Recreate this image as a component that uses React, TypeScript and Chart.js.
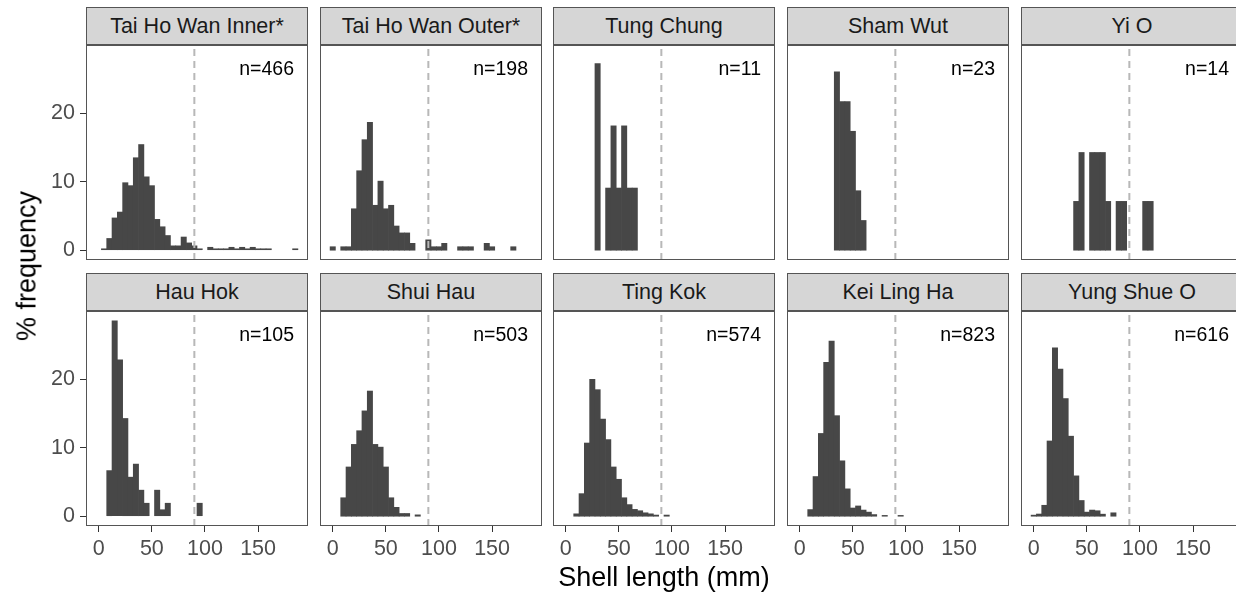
import React, { useEffect, useRef } from "react";
import { Chart, registerables } from "chart.js";

Chart.register(...registerables);

// ---------------- data ----------------
// histogram bin centres (mm), bin width 5 mm
const binCenters = [0, 5, 10, 15, 20, 25, 30, 35, 40, 45, 50, 55, 60, 65, 70, 75, 80, 85, 90, 95, 100, 105, 110, 115, 120, 125, 130, 135, 140, 145, 150, 155, 160, 165, 170, 175, 180, 185];

const siteNames = ["Tai Ho Wan Inner*", "Tai Ho Wan Outer*", "Tung Chung", "Sham Wut", "Yi O", "Hau Hok", "Shui Hau", "Ting Kok", "Kei Ling Ha", "Yung Shue O"];
const sampleSizes = [466, 198, 11, 23, 14, 105, 503, 574, 823, 616];

// % frequency per bin
const taiHoWanInner = [0, 0.21, 1.72, 4.72, 5.58, 9.87, 9.44, 13.52, 15.45, 10.73, 9.44, 4.51, 3.43, 2.15, 0.64, 0.64, 1.93, 1.07, 0.64, 0.21, 0, 0.43, 0.21, 0.21, 0.21, 0.43, 0.21, 0.43, 0.21, 0.43, 0.21, 0.21, 0.21, 0, 0, 0, 0, 0.21];
const taiHoWanOuter = [0.51, 0, 0.51, 0.51, 6.06, 11.62, 16.16, 18.69, 6.57, 10.1, 6.06, 6.57, 3.54, 2.53, 2.53, 1.01, 0, 0, 1.52, 0.51, 0.51, 1.01, 0, 0, 0.51, 0.51, 0.51, 0, 0, 1.01, 0.51, 0, 0, 0, 0.51, 0, 0, 0];
const tungChung = [0, 0, 0, 0, 0, 0, 27.27, 0, 9.09, 18.18, 9.09, 18.18, 9.09, 9.09, 0, 0, 0, 0, 0, 0, 0, 0, 0, 0, 0, 0, 0, 0, 0, 0, 0, 0, 0, 0, 0, 0, 0, 0];
const shamWut = [0, 0, 0, 0, 0, 0, 0, 26.09, 21.74, 21.74, 17.39, 8.7, 4.35, 0, 0, 0, 0, 0, 0, 0, 0, 0, 0, 0, 0, 0, 0, 0, 0, 0, 0, 0, 0, 0, 0, 0, 0, 0];
const yiO = [0, 0, 0, 0, 0, 0, 0, 0, 7.14, 14.29, 0, 14.29, 14.29, 14.29, 7.14, 0, 7.14, 7.14, 0, 0, 0, 7.14, 7.14, 0, 0, 0, 0, 0, 0, 0, 0, 0, 0, 0, 0, 0, 0, 0];
const hauHok = [0, 0, 6.67, 28.57, 22.86, 14.29, 5.71, 7.62, 3.81, 1.9, 0, 3.81, 0.95, 1.9, 0, 0, 0, 0, 0, 1.9, 0, 0, 0, 0, 0, 0, 0, 0, 0, 0, 0, 0, 0, 0, 0, 0, 0, 0];
const shuiHau = [0, 0, 2.7, 7.2, 10.5, 12.5, 15.4, 18.3, 10.5, 10.1, 7.2, 2.7, 1.3, 0.4, 0.4, 0, 0.2, 0, 0, 0, 0, 0, 0, 0, 0, 0, 0, 0, 0, 0, 0, 0, 0, 0, 0, 0, 0, 0];
const tingKok = [0, 0, 0.35, 3.3, 10.7, 20.0, 18.5, 14.2, 11.2, 7.2, 5.4, 2.7, 1.7, 1.0, 0.8, 0.5, 0.35, 0.17, 0, 0.17, 0, 0, 0, 0, 0, 0, 0, 0, 0, 0, 0, 0, 0, 0, 0, 0, 0, 0];
const keiLingHa = [0, 0, 0.97, 5.8, 12.1, 22.5, 25.6, 14.7, 8.1, 4.0, 1.2, 1.5, 0.9, 0.6, 0.24, 0, 0.12, 0, 0, 0.12, 0, 0, 0, 0, 0, 0, 0, 0, 0, 0, 0, 0, 0, 0, 0, 0, 0, 0];
const yungShueO = [0.16, 0.32, 1.6, 11.0, 24.6, 21.5, 17.2, 11.7, 5.9, 2.3, 0.6, 0.9, 0.8, 0.3, 0, 0.5, 0, 0, 0, 0, 0, 0, 0, 0, 0, 0, 0, 0, 0, 0, 0, 0, 0, 0, 0, 0, 0, 0];

const siteValues = [taiHoWanInner, taiHoWanOuter, tungChung, shamWut, yiO, hauHok, shuiHau, tingKok, keiLingHa, yungShueO];

const xTicks = [0, 50, 100, 150];
const yTicks = [0, 10, 20];
const cutoffLength = 90;

// ---------------- layout / style ----------------
const FONT = "'Liberation Sans', Arial, Helvetica, sans-serif";
const X_MIN = -12;
const X_MAX = 197;
const Y_MIN = -1.43;
const Y_MAX = 30.0;
const PANEL_LEFTS = [86, 320, 553, 787, 1021];
const PANEL_W = 222;
const STRIP_TOPS = [7, 273];
const STRIP_H = 38;
const PLOT_TOPS = [45, 311];
const PLOT_H = 215;
const TICK_FONT = 21.5;

const borderPlugin = {
  id: "panelBorder",
  afterDatasetsDraw(chart: any) {
    const { ctx, chartArea } = chart;
    ctx.save();
    ctx.strokeStyle = "#555555";
    ctx.lineWidth = 1;
    ctx.strokeRect(chartArea.left + 0.5, chartArea.top + 0.5, chartArea.right - chartArea.left - 1, chartArea.bottom - chartArea.top - 1);
    ctx.restore();
  },
};

function Panel({ idx }: { idx: number }) {
  const ref = useRef<HTMLCanvasElement>(null);
  const row = Math.floor(idx / 5);
  const col = idx % 5;
  const showY = col === 0;
  const showX = row === 1;
  const leftSpace = showY ? 86 : 2;
  const bottomSpace = showX ? 50 : 2;
  const cw = leftSpace + PANEL_W + 2;
  const ch = 2 + PLOT_H + bottomSpace;
  const cx = PANEL_LEFTS[col] - leftSpace;
  const cy = PLOT_TOPS[row] - 2;

  useEffect(() => {
    if (!ref.current) return;
    const values = siteValues[idx];
    const chart = new Chart(ref.current, {
      type: "bar",
      data: {
        datasets: [
          {
            type: "line",
            data: [
              { x: cutoffLength, y: Y_MIN },
              { x: cutoffLength, y: Y_MAX },
            ],
            borderColor: "#b8b8b8",
            borderWidth: 2,
            borderDash: [7, 5],
            pointRadius: 0,
            order: 0,
          } as any,
          {
            type: "bar",
            data: binCenters.map((b, k) => ({ x: b, y: values[k] === 0 ? null : values[k] })),
            backgroundColor: "#474747",
            borderWidth: 0,
            barPercentage: 1,
            categoryPercentage: 1,
            order: 1,
          } as any,
        ],
      },
      options: {
        responsive: false,
        animation: false,
        devicePixelRatio: 1,
        events: [],
        layout: { padding: { left: showY ? 0 : 2, top: 2, right: 2, bottom: showX ? 0 : 2 } },
        plugins: { legend: { display: false }, tooltip: { enabled: false } },
        scales: {
          x: {
            type: "linear",
            min: X_MIN,
            max: X_MAX,
            bounds: "data",
            offset: false,
            display: showX,
            afterBuildTicks: (a: any) => {
              a.ticks = xTicks.map((v) => ({ value: v }));
            },
            afterFit: (a: any) => {
              if (showX) a.height = 50;
              a.paddingLeft = 0;
              a.paddingRight = 0;
              a.paddingTop = 0;
              a.paddingBottom = 0;
            },
            grid: { display: true, drawOnChartArea: false, drawTicks: true, tickLength: 6, color: "#333333", offset: false },
            border: { display: false },
            ticks: { font: { family: FONT, size: TICK_FONT }, color: "#4d4d4d", padding: 4, maxRotation: 0, autoSkip: false },
          },
          y: {
            type: "linear",
            min: Y_MIN,
            max: Y_MAX,
            bounds: "data",
            display: showY,
            afterBuildTicks: (a: any) => {
              a.ticks = yTicks.map((v) => ({ value: v }));
            },
            afterFit: (a: any) => {
              if (showY) a.width = 86;
              a.paddingLeft = 0;
              a.paddingRight = 0;
              a.paddingTop = 0;
              a.paddingBottom = 0;
            },
            grid: { display: true, drawOnChartArea: false, drawTicks: true, tickLength: 6, color: "#333333" },
            border: { display: false },
            ticks: { font: { family: FONT, size: TICK_FONT }, color: "#4d4d4d", padding: 5 },
          },
        },
      } as any,
      plugins: [borderPlugin],
    });
    return () => chart.destroy();
  }, [idx]);

  return (
    <>
      <div
        style={{
          position: "absolute",
          left: PANEL_LEFTS[col],
          top: STRIP_TOPS[row],
          width: PANEL_W,
          height: STRIP_H,
          boxSizing: "border-box",
          border: "1px solid #555555",
          background: "#d6d6d6",
          color: "#1a1a1a",
          fontSize: 21.5,
          lineHeight: STRIP_H - 2 + "px",
          textAlign: "center",
          whiteSpace: "nowrap",
        }}
      >
        {siteNames[idx]}
      </div>
      <canvas
        ref={ref}
        width={cw}
        height={ch}
        style={{ position: "absolute", left: cx, top: cy, width: cw, height: ch }}
      />
      <div
        style={{
          position: "absolute",
          left: PANEL_LEFTS[col],
          width: PANEL_W - 14,
          top: PLOT_TOPS[row] + 13,
          height: 20,
          lineHeight: "20px",
          textAlign: "right",
          fontSize: 19.5,
          color: "#000",
          whiteSpace: "nowrap",
        }}
      >
        {"n=" + sampleSizes[idx]}
      </div>
    </>
  );
}

export default function App() {
  return (
    <div
      style={{
        position: "fixed",
        left: 0,
        top: 0,
        width: 1236,
        height: 592,
        overflow: "hidden",
        background: "#ffffff",
        fontFamily: FONT,
      }}
    >
      {siteNames.map((_, i) => (
        <Panel key={i} idx={i} />
      ))}
      <div
        style={{
          position: "absolute",
          left: 27,
          top: 266,
          transform: "translate(-50%, -50%) rotate(-90deg)",
          fontSize: 27,
          color: "#000",
          whiteSpace: "nowrap",
        }}
      >
        % frequency
      </div>
      <div
        style={{
          position: "absolute",
          left: 664,
          top: 577,
          transform: "translate(-50%, -50%)",
          fontSize: 27,
          color: "#000",
          whiteSpace: "nowrap",
        }}
      >
        Shell length (mm)
      </div>
    </div>
  );
}
